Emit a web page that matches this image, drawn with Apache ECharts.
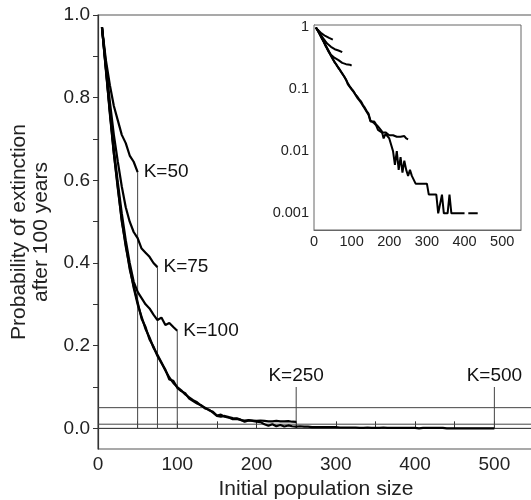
<!DOCTYPE html>
<html>
<head>
<meta charset="utf-8">
<script src="https://cdn.jsdelivr.net/npm/echarts@6/dist/echarts.min.js"></script>
<style>
html,body{margin:0;padding:0;background:#fff;}
#chart{width:531px;height:500px;}
</style>
</head>
<body>
<div id="chart"></div>
<script>
// ---- data (initial population size N, probability of extinction after 100 years) ----
function sizes(from, to, step){ var a=[]; for(var n=from;n<=to;n+=step) a.push(n); return a; }
var n50 = sizes(5, 50, 5);
var n75 = sizes(5, 75, 5);
var n100 = sizes(5, 100, 5);
var n250 = sizes(5, 250, 5);
var n500 = sizes(5, 500, 5);

var pK50 = [0.97, 0.89, 0.83, 0.78, 0.745, 0.71, 0.69, 0.66, 0.645, 0.62];
var pK75 = [0.97, 0.88, 0.79, 0.71, 0.645, 0.585, 0.535, 0.50, 0.475, 0.46, 0.435, 0.425, 0.415, 0.40, 0.39];
var pK100 = [0.97, 0.87, 0.77, 0.675, 0.595, 0.52, 0.455, 0.40, 0.355, 0.33,
             0.315, 0.30, 0.29, 0.275, 0.262, 0.268, 0.25, 0.255, 0.245, 0.236];
var pK250 = [0.97, 0.865, 0.765, 0.665, 0.58, 0.505, 0.44, 0.39, 0.34, 0.30,
             0.27, 0.24, 0.22, 0.195, 0.178, 0.16, 0.14, 0.123, 0.11, 0.10,
             0.092, 0.082, 0.075, 0.068, 0.063, 0.055, 0.05, 0.044, 0.040, 0.031,
             0.033, 0.028, 0.026, 0.022, 0.023, 0.02, 0.019, 0.020, 0.019, 0.018,
             0.019, 0.018, 0.017, 0.017, 0.018, 0.017, 0.017, 0.0175, 0.016, 0.0155];
var pK500 = [0.97, 0.87, 0.76, 0.665, 0.585, 0.50, 0.445, 0.385, 0.345, 0.305,
             0.265, 0.245, 0.215, 0.198, 0.175, 0.158, 0.142, 0.118, 0.115, 0.098,
             0.09, 0.085, 0.072, 0.066, 0.06, 0.056, 0.048, 0.045, 0.038, 0.03,
             0.028, 0.03, 0.027, 0.025, 0.024, 0.021, 0.016, 0.019, 0.018, 0.016,
             0.015, 0.01, 0.006, 0.01, 0.005, 0.008, 0.0045, 0.007, 0.005, 0.004,
             0.005, 0.004, 0.004, 0.003, 0.003, 0.003, 0.003, 0.003, 0.003, 0.003,
             0.002, 0.002, 0.002, 0.002, 0.002, 0.001, 0.001, 0.002, 0.001, 0.001,
             0.001, 0.002, 0.001, 0.001, 0.001, 0.001, 0.001, 0.001, 0.001, 0.001,
             0, 0.001, 0.001, 0.001, 0.001, 0.001, 0.001, 0, 0, 0,
             0, 0, 0, 0, 0, 0, 0, 0, 0, 0];

var kValues = [50, 75, 100, 250, 500];
var kLabels = ['K=50', 'K=75', 'K=100', 'K=250', 'K=500'];
var kMarkerTops = [0.62, 0.39, 0.236, 0.1, 0.1];
var refLevelsMain = [0.05, 0.01, 0];
var refLevelsInset = [0.05, 0.01];

var xTicksMain = [0, 50, 100, 150, 200, 250, 300, 350, 400, 450, 500, 550];
var xLabelsMain = [0, 100, 200, 300, 400, 500];
var yTicksMain = [0, 0.1, 0.2, 0.3, 0.4, 0.5, 0.6, 0.7, 0.8, 0.9, 1.0];
var yLabelsMain = [0, 0.2, 0.4, 0.6, 0.8, 1.0];
var yLabelsInset = [0.001, 0.01, 0.1, 1];
var yTicksInset = [0.0006, 0.0007, 0.0008, 0.0009, 0.001, 0.002, 0.003, 0.004, 0.005, 0.006, 0.007, 0.008, 0.009,
                   0.01, 0.02, 0.03, 0.04, 0.05, 0.06, 0.07, 0.08, 0.09, 0.1, 0.2, 0.3, 0.4, 0.5, 0.6, 0.7, 0.8, 0.9, 1];

// ---- build ----
var FONT = 'Liberation Sans, Arial, Helvetica, sans-serif';
function pairs(ns, ps){ return ns.map(function(n,i){ return [n, ps[i]]; }); }
function pairsLog(ns, ps){ return ns.map(function(n,i){ return [n, ps[i] > 0 ? ps[i] : null]; }); }

var curves = [[n50,pK50],[n75,pK75],[n100,pK100],[n250,pK250],[n500,pK500]];
var series = [];
curves.forEach(function(c){
  series.push({type:'line', xAxisIndex:0, yAxisIndex:0, data:pairs(c[0],c[1]), showSymbol:false,
    lineStyle:{color:'#000', width:2.2}, z:5, silent:true});
  series.push({type:'line', xAxisIndex:1, yAxisIndex:1, data:pairsLog(c[0],c[1]), showSymbol:false,
    connectNulls:false, lineStyle:{color:'#000', width:2}, z:5, silent:true});
});
refLevelsMain.forEach(function(v){
  series.push({type:'line', xAxisIndex:0, yAxisIndex:0, data:[[0,v],[550,v]], showSymbol:false,
    lineStyle:{color:'#444', width:1}, z:3, silent:true});
});
refLevelsInset.forEach(function(v){
  series.push({type:'line', xAxisIndex:1, yAxisIndex:1, data:[[0,v],[550,v]], showSymbol:false,
    lineStyle:{color:'#444', width:1}, z:3, silent:true});
});
kValues.forEach(function(k, i){
  var top = kMarkerTops[i];
  var pos = i < 3 ? 'right' : 'top';
  series.push({type:'line', xAxisIndex:0, yAxisIndex:0, symbolSize:0, showSymbol:true,
    lineStyle:{color:'#444', width:1}, z:3, silent:true,
    data:[[k,0], {value:[k, top], label:{show:true, position:pos, distance: pos==='right'?6:2,
      formatter:kLabels[i], color:'#111', fontSize:19, fontFamily:FONT}}]});
});

var axisLineMain = {show:true, lineStyle:{color:'#333', width:1.2}};
var option = {
  animation:false,
  backgroundColor:'#fff',
  grid:[
    {left:98, top:15, width:436, height:434, show:true, borderColor:'#555', borderWidth:1.2,
     containLabel:false, outerBoundsMode:'none'},
    {left:314, top:25, width:207, height:205, show:true, borderColor:'#666', borderWidth:1, backgroundColor:'#fff', z:4,
     containLabel:false, outerBoundsMode:'none'}
  ],
  xAxis:[
    {type:'value', gridIndex:0, min:0, max:550, interval:50,
     axisLine:axisLineMain,
     axisTick:{show:true, inside:true, length:7, lineStyle:{color:'#333'}, customValues:xTicksMain},
     axisLabel:{show:true, color:'#222', fontSize:19, fontFamily:FONT, margin:6, customValues:xLabelsMain},
     splitLine:{show:false},
     name:'Initial population size', nameLocation:'middle', nameGap:28,
     nameTextStyle:{color:'#222', fontSize:21, fontFamily:FONT}},
    {type:'value', gridIndex:1, min:0, max:550, interval:50,
     axisLine:{show:true, lineStyle:{color:'#666', width:1}},
     axisTick:{show:true, inside:true, length:4, lineStyle:{color:'#666'}},
     axisLabel:{color:'#222', fontSize:14.5, fontFamily:FONT, margin:4, showMaxLabel:false,
       formatter:function(v){ return v % 100 === 0 ? String(v) : ''; }},
     splitLine:{show:false}}
  ],
  yAxis:[
    {type:'value', gridIndex:0, min:-0.05, max:1.0,
     axisLine:axisLineMain,
     axisTick:{show:true, inside:false, length:5, lineStyle:{color:'#333'}, customValues:yTicksMain},
     axisLabel:{color:'#222', fontSize:19, fontFamily:FONT, margin:8, customValues:yLabelsMain,
       formatter:function(v){ return (+v).toFixed(1); }},
     splitLine:{show:false},
     name:'Probability of extinction\nafter 100 years', nameLocation:'middle', nameGap:39,
     nameTextStyle:{color:'#222', fontSize:21, fontFamily:FONT, lineHeight:22}},
    {type:'log', gridIndex:1, min:0.00054, max:1.065, logBase:10,
     axisLine:{show:true, lineStyle:{color:'#666', width:1}},
     axisTick:{show:true, inside:true, length:3, lineStyle:{color:'#666'}, customValues:yTicksInset},
     axisLabel:{color:'#222', fontSize:14.5, fontFamily:FONT, margin:5, customValues:yLabelsInset,
       formatter:function(v){ var m={'0.001':'0.001','0.01':'0.01','0.1':'0.1','1':'1'}; var s=String(+(+v).toPrecision(3)); return m[s]!==undefined?m[s]:s; }},
     splitLine:{show:false}}
  ],
  series:series
};
var chart = echarts.init(document.getElementById('chart'), null, {renderer:'canvas'});
chart.setOption(option);
</script>
</body>
</html>
